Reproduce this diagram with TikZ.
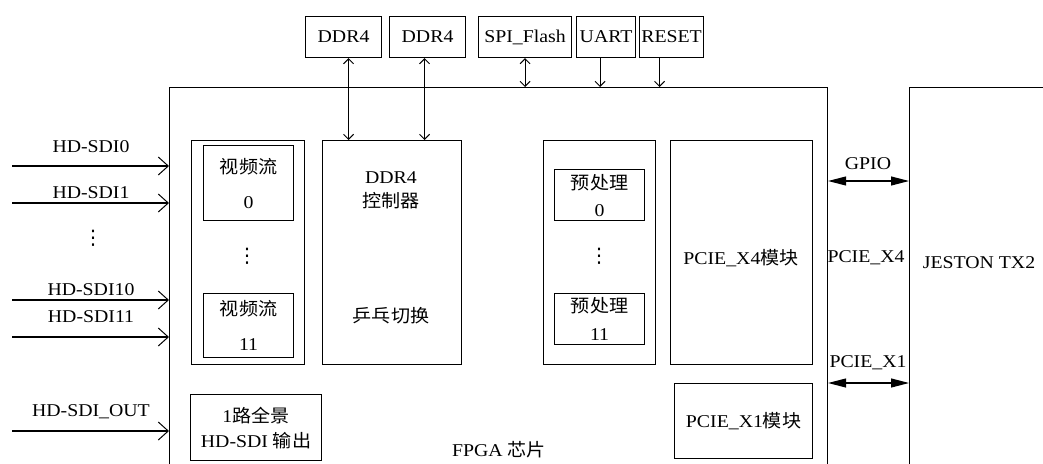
\documentclass[tikz,border=0pt]{standalone}
\usepackage{fontspec}
\setmainfont{Liberation Serif}[FakeStretch=1.1]
\newfontfamily\cjk{Noto Sans CJK SC}[FakeStretch=1.06]
\newfontfamily\dvs{DejaVu Sans}
\newcommand\zh[1]{{\cjk #1}}
\newcommand\vdt{{\dvs\fontsize{20}{22}\selectfont ⋮}}
\usetikzlibrary{arrows.meta}
\begin{document}
\begin{tikzpicture}[x=1pt,y=-1pt,line width=1.1pt,
  every node/.style={font=\fontsize{18}{22}\selectfont},
  blk/.style={draw,anchor=north west,inner sep=0pt,align=center},
  lbl/.style={inner sep=0pt,align=center},
  inarr/.style={-{Straight Barb[length=10pt,width=18pt,line width=1pt]}},
  barb/.style={{Straight Barb[length=5pt,width=10pt,line width=1pt]}-{Straight Barb[length=5pt,width=10pt,line width=1pt]}},
  barbone/.style={-{Straight Barb[length=5pt,width=10pt,line width=1pt]}},
  tri/.style={{Triangle[length=18pt,width=9pt]}-{Triangle[length=18pt,width=9pt]}}]
\useasboundingbox (0,0) rectangle (1043,463);
\clip (0,0) rectangle (1043,463);
% top peripherals
\node[blk,minimum width=76pt,minimum height=41pt] (ddra) at (305,16) {DDR4};
\node[blk,minimum width=76pt,minimum height=41pt] (ddrb) at (389,16) {DDR4};
\node[blk,minimum width=93pt,minimum height=41pt] (spi) at (478,16) {SPI\_Flash};
\node[blk,minimum width=59pt,minimum height=41pt] (uart) at (576,16) {UART};
\node[blk,minimum width=64pt,minimum height=41pt] (rst) at (639,16) {RESET};
% main chips
\node[blk,minimum width=658pt,minimum height=420pt] (fpga) at (169,87) {};
\node[blk,minimum width=200pt,minimum height=420pt] (jet) at (909,87) {};
\node[lbl] (fpgal) at (499,450) {FPGA \zh{芯片}};
\node[lbl] (jetl) at (979,263) {JESTON TX2};
% video streams
\node[blk,minimum width=113pt,minimum height=224pt] (vs) at (191,140) {};
\node[blk,minimum width=90pt,minimum height=75pt] (vs0) at (203,145) {\zh{视频流}\\[13pt]0};
\node[blk,minimum width=90pt,minimum height=64pt] (vs11) at (203,293) {\zh{视频流}\\[13pt]11};
\node[lbl] (vsd) at (247,256) {\vdt};
% DDR4 controller
\node[blk,minimum width=139pt,minimum height=224pt] (ddrc) at (322,140) {};
\node[lbl] (ddrct) at (391,190) {DDR4\\[2pt]\zh{控制器}};
\node[lbl] (ddrcp) at (391,316) {\zh{乒乓切换}};
% preprocessing
\node[blk,minimum width=112pt,minimum height=224pt] (pp) at (543,140) {};
\node[blk,minimum width=90pt,minimum height=51pt] (pp0) at (554,169) {\zh{预处理}\\[5pt]0};
\node[blk,minimum width=90pt,minimum height=51pt] (pp11) at (554,293) {\zh{预处理}\\[6pt]11};
\node[lbl] (ppd) at (599,256) {\vdt};
% PCIE blocks
\node[blk,minimum width=142pt,minimum height=224pt] (x4) at (670,140) {};
\node[lbl] (x4t) at (741,258) {PCIE\_X4\zh{模块}};
\node[blk,minimum width=138pt,minimum height=75pt] (x1) at (674,383) {PCIE\_X1\zh{模块}};
% panorama output
\node[blk,minimum width=131pt,minimum height=66pt] (pano) at (190,394) {1\zh{路全景}\\[3pt]HD-SDI \zh{输出}};
% top connectors
\draw[barb] ([xshift=5pt]ddra.south) -- ([xshift=5pt]ddra.south |- ddrc.north);
\draw[barb] ([xshift=-3pt]ddrb.south) -- ([xshift=-3pt]ddrb.south |- ddrc.north);
\draw[barb] (spi.south) -- (spi.south |- fpga.north);
\draw[barbone] ([xshift=-6pt]uart.south) -- ([xshift=-6pt]uart.south |- fpga.north);
\draw[barbone] ([xshift=-12pt]rst.south) -- ([xshift=-12pt]rst.south |- fpga.north);
% inputs
\coordinate (i0) at (12,166);
\coordinate (i1) at (12,203);
\coordinate (i10) at (12,300);
\coordinate (i11) at (12,337);
\coordinate (io) at (12,431);
\draw[inarr] (i0) -- (i0 -| fpga.west);
\draw[inarr] (i1) -- (i1 -| fpga.west);
\draw[inarr] (i10) -- (i10 -| fpga.west);
\draw[inarr] (i11) -- (i11 -| fpga.west);
\draw[inarr] (io) -- (io -| fpga.west);
\node[lbl] (l0) at (91,147) {HD-SDI0};
\node[lbl] (l1) at (91,193) {HD-SDI1};
\node[lbl] (ld) at (93,238) {\vdt};
\node[lbl] (l10) at (91,290) {HD-SDI10};
\node[lbl] (l11) at (91,317) {HD-SDI11};
\node[lbl] (lo) at (91,412) {HD-SDI\_OUT};
% right connectors
\coordinate (g) at (868,181);
\coordinate (p1) at (868,383);
\draw[tri] (g -| fpga.east) -- (g -| jet.west);
\draw[tri] (p1 -| fpga.east) -- (p1 -| jet.west);
\node[lbl] (gl) at (868,164) {GPIO};
\node[lbl] (p4l) at (866,258) {PCIE\_X4};
\node[lbl] (p1l) at (868,363) {PCIE\_X1};
\end{tikzpicture}
\end{document}
